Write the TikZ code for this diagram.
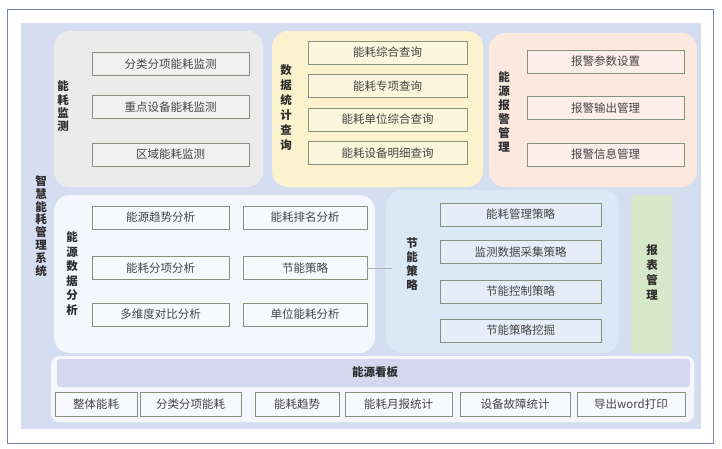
\documentclass[tikz,border=0pt]{standalone}
\usepackage{fontspec}
\setmainfont{Noto Sans CJK SC}
\usepackage{tikz}
\definecolor{framec}{HTML}{7A82B8}
\definecolor{bgc}{HTML}{D5DDF0}
\definecolor{grayp}{HTML}{EBEBEB}
\definecolor{yellowp}{HTML}{FCF3CE}
\definecolor{pinkp}{HTML}{FBE8DF}
\definecolor{whitep}{HTML}{F3F8FD}
\definecolor{bluep}{HTML}{DBE8F5}
\definecolor{greenp}{HTML}{D7E8C8}
\definecolor{boardp}{HTML}{F5F7FC}
\definecolor{bandc}{HTML}{D3D8EE}
\definecolor{itemline}{HTML}{86927F}
\definecolor{itemtext}{HTML}{454545}
\definecolor{labeltext}{HTML}{2E2E2E}

\begin{document}
\begin{tikzpicture}[x=1pt, y=-1pt,
  panel/.style={fill=#1, draw=none, rounded corners=16pt},
  item/.style={draw=itemline, line width=0.8pt, fill=white, fill opacity=0.3, text opacity=1,
    text=itemtext, font=\fontsize{11.5}{13}\selectfont, minimum height=23pt, inner sep=0pt},
  vlabel/.style={align=center, inner sep=0pt, text=labeltext,
    font=\bfseries\fontsize{11.5}{#1}\selectfont},
  vlabel/.default=14pt,
  link/.style={draw=gray!60, thin}]
  \useasboundingbox (0,0) rectangle (722,448);
  \draw[framec, line width=1pt] (7,9) rectangle (713,443);
  \fill[bgc] (21,23) rectangle (701,429);
  % panels
  \fill[panel=grayp] (54,31) rectangle (263,187);
  \fill[panel=yellowp] (272,31) rectangle (483,187);
  \fill[panel=pinkp] (489,33) rectangle (697,187);
  \fill[panel=whitep] (54,195) rectangle (375,353);
  \fill[panel=bluep] (386,190) rectangle (619,353);
  \fill[greenp, rounded corners=3pt] (631,195) rectangle (673,353);
  \fill[boardp, rounded corners=8pt] (51,356) rectangle (694,422);
  \fill[bandc, rounded corners=3pt] (57,359) rectangle (690,387);
  % labels
  \node[vlabel=12.8pt] (sys) at (41,226) {智\\慧\\能\\耗\\管\\理\\系\\统};
  \node[vlabel=13.3pt] (l1) at (63,106.5) {能\\耗\\监\\测};
  \node[vlabel=15pt] (l2) at (286,108) {数\\据\\统\\计\\查\\询};
  \node[vlabel] (l3) at (504,111.5) {能\\源\\报\\警\\管\\理};
  \node[vlabel=14.5pt] (l4) at (72,273.5) {能\\源\\数\\据\\分\\析};
  \node[vlabel] (l5) at (412,264) {节\\能\\策\\略};
  \node[vlabel=15pt] (l6) at (652,272.5) {报\\表\\管\\理};
  \node[text=labeltext, font=\bfseries\fontsize{11.5}{13}\selectfont] (l7) at (375,372) {能源看板};
  % monitoring
  \node[item, minimum width=157pt] (a1) at (170.5,64) {分类分项能耗监测};
  \node[item, minimum width=157pt] (a2) at (170.5,107) {重点设备能耗监测};
  \node[item, minimum width=157pt] (a3) at (170.5,154.5) {区域能耗监测};
  % query
  \node[item, minimum width=159pt] (b1) at (387.5,52.5) {能耗综合查询};
  \node[item, minimum width=159pt] (b2) at (387.5,86) {能耗专项查询};
  \node[item, minimum width=159pt] (b3) at (387.5,119.5) {能耗单位综合查询};
  \node[item, minimum width=159pt] (b4) at (387.5,153) {能耗设备明细查询};
  % alarm
  \node[item, minimum width=157pt] (c1) at (605.5,61.5) {报警参数设置};
  \node[item, minimum width=157pt] (c2) at (605.5,108) {报警输出管理};
  \node[item, minimum width=157pt] (c3) at (605.5,154.5) {报警信息管理};
  % analysis
  \node[item, minimum width=137pt] (d1) at (160.5,217.5) {能源趋势分析};
  \node[item, minimum width=124pt] (d2) at (305,217.5) {能耗排名分析};
  \node[item, minimum width=137pt] (d3) at (160.5,268) {能耗分项分析};
  \node[item, minimum width=124pt] (d4) at (305,268) {节能策略};
  \node[item, minimum width=137pt] (d5) at (160.5,314.5) {多维度对比分析};
  \node[item, minimum width=124pt] (d6) at (305,314.5) {单位能耗分析};
  % strategy
  \node[item, minimum width=161pt] (e1) at (520.5,214.5) {能耗管理策略};
  \node[item, minimum width=161pt] (e2) at (520.5,252) {监测数据采集策略};
  \node[item, minimum width=161pt] (e3) at (520.5,291.5) {节能控制策略};
  \node[item, minimum width=161pt] (e4) at (520.5,330.5) {节能策略挖掘};
  \coordinate (jn) at (392,268);
  \draw[link] (d4.east) -- (jn);
  % board
  \node[item, minimum width=82pt, minimum height=24pt] (f1) at (96,404) {整体能耗};
  \node[item, minimum width=101pt, minimum height=24pt] (f2) at (190.5,404) {分类分项能耗};
  \node[item, minimum width=84pt, minimum height=24pt] (f3) at (297,404) {能耗趋势};
  \node[item, minimum width=107pt, minimum height=24pt] (f4) at (398.5,404) {能耗月报统计};
  \node[item, minimum width=110pt, minimum height=24pt] (f5) at (515,404) {设备故障统计};
  \node[item, minimum width=108pt, minimum height=24pt] (f6) at (631,404) {导出word打印};
\end{tikzpicture}
\end{document}
